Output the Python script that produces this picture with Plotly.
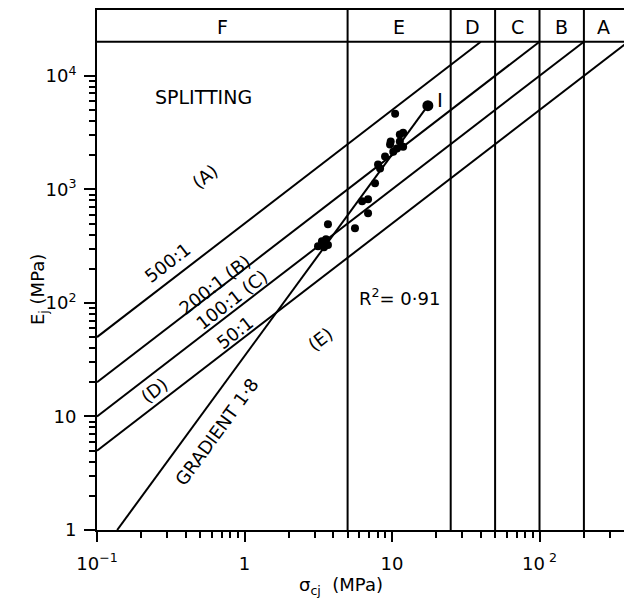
import numpy as np
import plotly.graph_objects as go

# ---- data ----
strength = [10.5, 17.5, 11.9, 11.3, 9.8, 9.7, 11.3, 10.2, 10.8, 11.9, 8.97, 8.04, 8.3,
            7.67, 6.27, 6.88, 6.88, 5.61, 3.68, 3.15, 3.35, 3.57, 3.46, 3.68]
modulus = [4640, 5460, 3160, 3040, 2640, 2480, 2640, 2150, 2290, 2380, 1950, 1660, 1530,
           1130, 785, 817, 615, 455, 493, 316, 350, 364, 310, 323]
fit_x = [0.137, 17.5]
fit_y = [1, 5460]
ratios = [500, 200, 100, 50]
ratio_labels = ["500:1", "200:1 (B)", "100:1 (C)", "50:1"]
boundaries = [5, 25, 50, 100, 200]
band_labels = ["F", "E", "D", "C", "B", "A"]
y_limit = 2e4
x_min, x_max = 0.1, 374

FONT = "DejaVu Sans"
LW = 2
fig = go.Figure()

# modulus ratio lines
for r in ratios:
    fig.add_trace(go.Scatter(x=[x_min, y_limit / r], y=[r * x_min, y_limit], mode="lines",
                             line=dict(color="black", width=LW), showlegend=False))

# regression line (gradient 1.8)
fig.add_trace(go.Scatter(x=fit_x, y=fit_y, mode="lines",
                         line=dict(color="black", width=LW), showlegend=False))

# data points
fig.add_trace(go.Scatter(x=strength, y=modulus, mode="markers",
                         marker=dict(color="black", size=8), showlegend=False))
fig.add_trace(go.Scatter(x=[strength[1]], y=[modulus[1]], mode="markers",
                         marker=dict(color="black", size=11), showlegend=False))

# vertical class boundaries
for b in boundaries:
    fig.add_shape(type="line", xref="x", yref="paper", x0=b, x1=b, y0=0, y1=1,
                  line=dict(color="black", width=LW))
# band bottom line
fig.add_shape(type="line", xref="paper", yref="y", x0=0, x1=1, y0=y_limit, y1=y_limit,
              line=dict(color="black", width=LW))

# band letters
edges = [x_min] + boundaries + [x_max]
for i, lab in enumerate(band_labels):
    cx = (np.log10(edges[i]) + np.log10(edges[i + 1])) / 2
    fig.add_annotation(x=cx, y=4.43, xref="x", yref="y", text=lab, showarrow=False,
                       font=dict(size=19, family=FONT, color="black"))

ang = -37.7
ann = [
    ("SPLITTING", -0.281, 3.815, 0, 19),
    ("(A)", -0.268, 3.11, ang, 18),
    (ratio_labels[0], -0.519, 2.352, ang, 18),
    (ratio_labels[1], -0.2, 2.159, ang, 18),
    (ratio_labels[2], -0.085, 2.026, ang, 18),
    (ratio_labels[3], -0.064, 1.736, ang, 18),
    ("(D)", -0.614, 1.233, ang, 18),
    ("GRADIENT 1·8", -0.193, 0.863, -53.9, 18),
    ("(E)", 0.512, 1.674, ang, 18),
    ("R<sup>2</sup>= 0·91", 1.054, 2.053, 0, 18),
    ("I", 1.325, 3.79, 0, 20),
]
for t, ax, ay, a, s in ann:
    fig.add_annotation(x=ax, y=ay, xref="x", yref="y", text=t, showarrow=False,
                       textangle=a, font=dict(size=s, family=FONT, color="black"))

# axis titles (pixel-placed, converted to paper coords)
L, T, W, H = 97, 10, 527, 520
fig.add_annotation(x=(25 - L) / W, y=(T + H - 290) / H, xref="paper", yref="paper",
                   text="E<sub>j</sub> (MPa)", showarrow=False, textangle=-90,
                   font=dict(size=18, family=FONT, color="black"))
fig.add_annotation(x=(341 - L) / W, y=(T + H - 600) / H, xref="paper", yref="paper",
                   text="σ<sub>cj</sub>  (MPa)", showarrow=False,
                   font=dict(size=18, family=FONT, color="black"))

xminor = [m * 10 ** e for e in range(-1, 3) for m in range(2, 10) if m * 10 ** e < x_max]
yminor = [m * 10 ** e for e in range(0, 4) for m in range(2, 10)]

fig.update_xaxes(type="log", range=[np.log10(x_min), np.log10(x_max)],
                 showline=True, mirror=True, linecolor="black", linewidth=LW,
                 showgrid=False, zeroline=False, ticks="outside", ticklen=10, tickwidth=1.8,
                 tickcolor="black", tickmode="array", tickvals=[0.1, 1, 10, 100],
                 ticktext=["10<sup>−1</sup>", "1", "10", "10<sup> 2</sup>"],
                 ticklabelstandoff=6,
                 tickfont=dict(size=18, family=FONT, color="black"),
                 minor=dict(tickmode="array", tickvals=xminor, ticks="outside", ticklen=6,
                            tickwidth=1.6, tickcolor="black", showgrid=False))
fig.update_yaxes(type="log", range=[0, 4.58],
                 showline=True, mirror=False, linecolor="black", linewidth=LW,
                 showgrid=False, zeroline=False, ticks="outside", ticklen=11, tickwidth=1.8,
                 tickcolor="black", tickmode="array", tickvals=[1, 10, 100, 1000, 10000],
                 ticktext=["1", "10", "10<sup>2</sup>", "10<sup>3</sup>", "10<sup>4</sup>"],
                 ticklabelstandoff=4,
                 tickfont=dict(size=18, family=FONT, color="black"),
                 minor=dict(tickmode="array", tickvals=yminor, ticks="outside", ticklen=6,
                            tickwidth=1.6, tickcolor="black", showgrid=False))

fig.update_layout(width=624, height=610, margin=dict(l=L, r=0, t=T, b=610 - T - H),
                  plot_bgcolor="white", paper_bgcolor="white", showlegend=False,
                  font=dict(family=FONT, color="black"))

fig.write_html("out.html")
